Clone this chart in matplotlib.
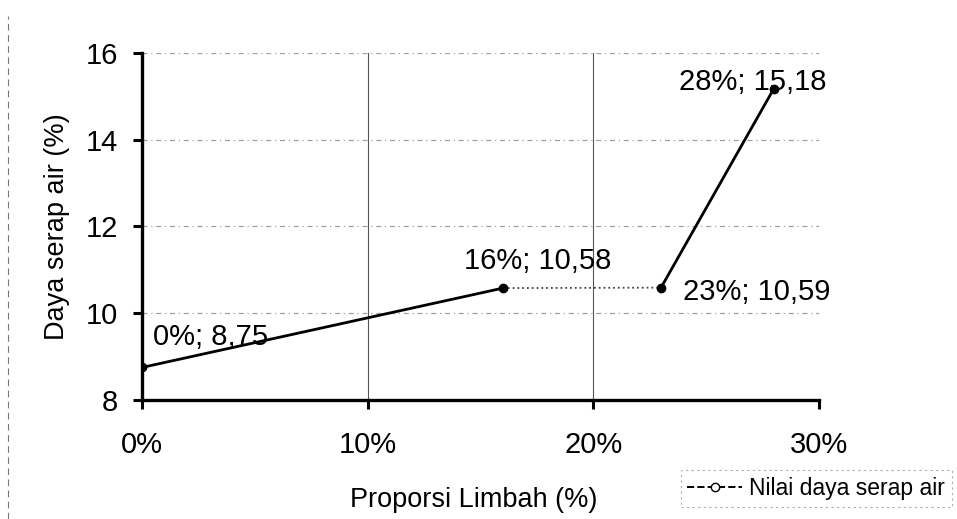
import matplotlib
matplotlib.use("Agg")
import matplotlib.pyplot as plt
from matplotlib.lines import Line2D

x_pct = [0, 16, 23, 28]
y_val = [8.75, 10.58, 10.59, 15.18]
labels = ["0%; 8,75", "16%; 10,58", "23%; 10,59", "28%; 15,18"]
seg_styles = ["-", ":", "-"]
x_ticks = [0, 10, 20, 30]
x_tick_labels = ["0%", "10%", "20%", "30%"]
y_ticks = [8, 10, 12, 14, 16]

plt.rcParams['font.family'] = ['Liberation Sans', 'DejaVu Sans']

fig = plt.figure(figsize=(9.57, 5.19), dpi=100)
ax = fig.add_axes([0.1484, 0.2293, 0.7074, 0.6686])

# grid
for yt in y_ticks[1:]:
    ax.axhline(yt, color='#a0a0a0', lw=0.9, ls=(0, (4, 3, 1, 3)), zorder=0)
for xt in x_ticks[1:-1]:
    ax.axvline(xt, color='#555555', lw=0.8, zorder=0)

# segments
for i in range(len(x_pct) - 1):
    ls = seg_styles[i]
    col = 'black' if ls == '-' else '#444444'
    lw = 2.0 if ls == '-' else 1.3
    ax.plot(x_pct[i:i + 2], y_val[i:i + 2], color=col, ls=ls, lw=lw, zorder=3)
ax.plot(x_pct, y_val, ls='none', marker='o', ms=6, color='black', zorder=4)

offsets = [(49, 21.6), (25, 19.5), (69, -3), (-15, 5)]
for xv, yv, lab, off in zip(x_pct, y_val, labels, offsets):
    ax.annotate(lab, (xv, yv), xytext=off, textcoords='offset points',
                ha='center', va='center', fontsize=21, color='black', zorder=5)

ax.set_xlim(0, 30)
ax.set_ylim(8, 16)
ax.set_xticks(x_ticks)
ax.set_xticklabels(x_tick_labels)
ax.set_yticks(y_ticks)
ax.tick_params(axis='both', labelsize=21, width=2.2, length=6.5, color='black')
ax.tick_params(axis='x', pad=16)
ax.tick_params(axis='y', pad=11)
for s in ['top', 'right']:
    ax.spines[s].set_visible(False)
for s in ['left', 'bottom']:
    ax.spines[s].set_linewidth(2.4)

ax.set_xlabel("Proporsi Limbah (%)", fontsize=19.5)
ax.set_ylabel("Daya serap air (%)", fontsize=19.5)
ax.xaxis.label.set_va('center')
ax.yaxis.label.set_va('center')
ax.xaxis.set_label_coords(0.49, -0.2886)
ax.yaxis.set_label_coords(-0.1256, 0.5)

handle = Line2D([0], [0], color='black', lw=1.4, ls='--', marker='o', ms=6,
                markerfacecolor='white', markeredgecolor='black')
leg = fig.legend([handle], ["Nilai daya serap air"], loc='lower right',
                 bbox_to_anchor=(0.9948, 0.0231), fontsize=16.5, frameon=True,
                 fancybox=False, handlelength=2.4, borderpad=0.3,
                 handletextpad=0.3, borderaxespad=0)
leg.get_frame().set_edgecolor('#999999')
leg.get_frame().set_linestyle((0, (2, 3)))
leg.get_frame().set_linewidth(0.8)

fig.add_artist(Line2D([0.008, 0.008], [0.0, 0.97], transform=fig.transFigure,
                      color='#777777', lw=0.8, ls=(0, (6, 4))))

fig.savefig("out.png", dpi=100)
